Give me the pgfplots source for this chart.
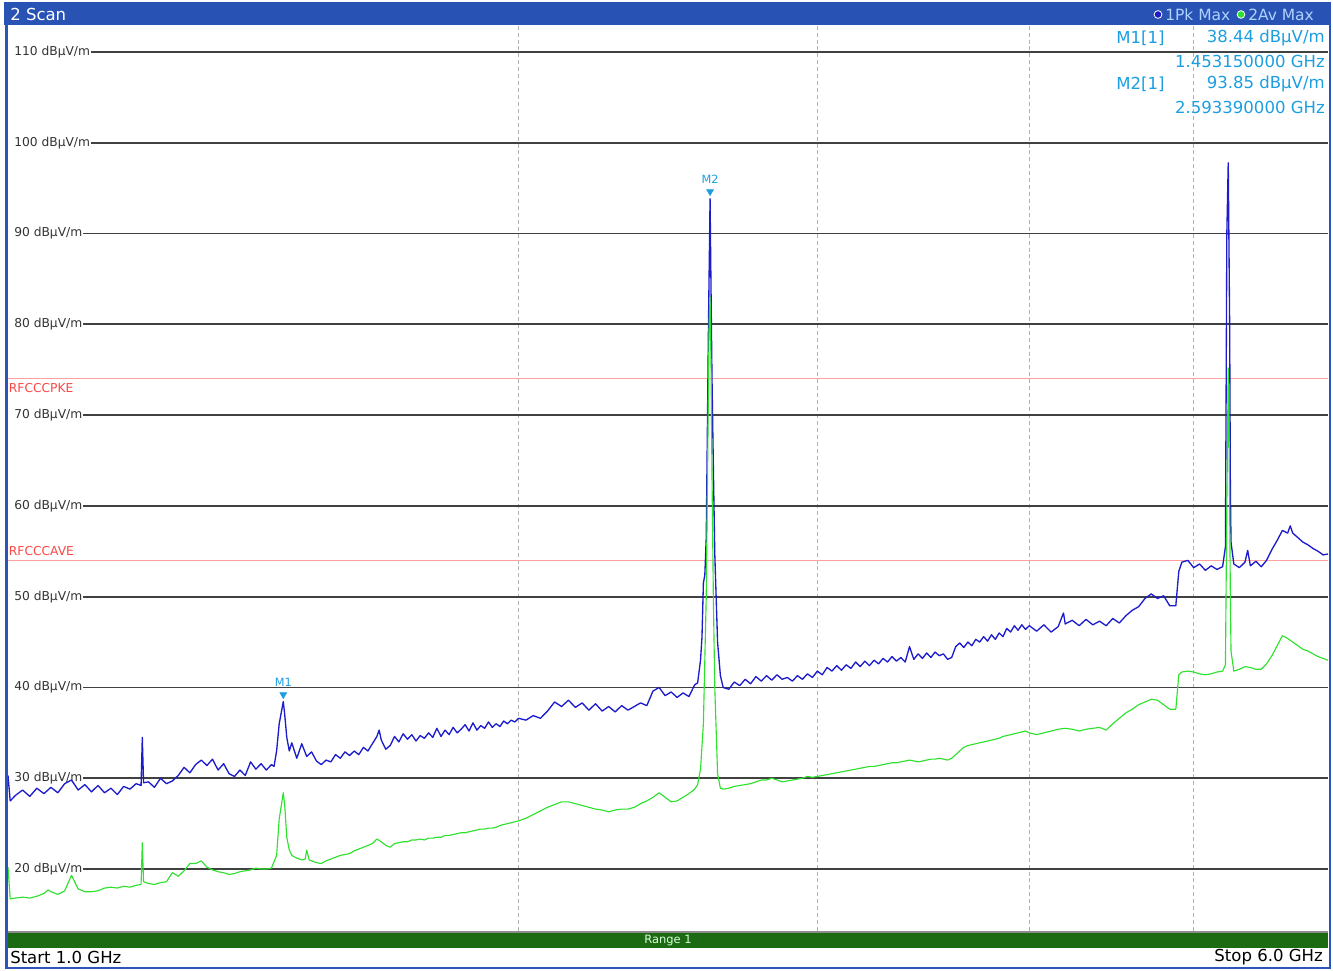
\documentclass[border=0pt]{standalone}
\usepackage{pgfplots}
\pgfplotsset{compat=1.18}
\usepackage{pgfplotstable}
\usepackage{fontspec}
\setmainfont{DejaVu Sans}

\definecolor{hdrblue}{RGB}{40,82,180}
\definecolor{frameblue}{RGB}{45,85,185}
\definecolor{pkblue}{RGB}{28,28,205}
\definecolor{avgreen}{RGB}{45,225,45}
\definecolor{mkblue}{RGB}{28,158,225}
\definecolor{limred}{RGB}{255,160,160}
\definecolor{limtxt}{RGB}{250,70,70}
\definecolor{rangegreen}{RGB}{28,106,18}
\definecolor{gridc}{RGB}{65,65,65}
\definecolor{hdrtxt}{RGB}{175,210,255}
\newcommand\fs[1]{\fontsize{#1}{#1}\selectfont}

% Trace 1: Pk Max (GHz, dBuV/m)
\pgfplotstableread{
f dB
1.000 30.3
1.003 27.5
1.01 28.1
1.02 28.7
1.03 28.0
1.04 28.9
1.05 28.3
1.06 29.0
1.07 28.4
1.08 29.4
1.09 29.8
1.10 28.7
1.11 29.3
1.12 28.5
1.13 29.2
1.14 28.4
1.15 28.9
1.16 28.2
1.17 29.1
1.18 28.8
1.19 29.4
1.198 29.2
1.200 34.5
1.202 29.5
1.21 29.6
1.22 29.0
1.23 30.0
1.24 29.4
1.25 29.7
1.26 30.3
1.27 31.2
1.28 30.6
1.29 31.5
1.30 32.0
1.31 31.4
1.32 32.1
1.33 30.9
1.34 31.6
1.35 30.5
1.36 30.2
1.37 30.9
1.38 30.3
1.39 31.8
1.40 31.0
1.41 31.6
1.42 30.9
1.43 31.5
1.435 31.3
1.44 33.0
1.445 36.0
1.45315 38.44
1.456 37.0
1.46 34.5
1.465 33.0
1.47 33.9
1.48 32.2
1.49 33.8
1.50 32.4
1.51 32.9
1.52 31.9
1.53 31.5
1.54 32.0
1.55 31.8
1.56 32.6
1.57 32.2
1.58 32.9
1.59 32.5
1.60 33.0
1.61 32.6
1.62 33.4
1.63 33.0
1.64 33.8
1.65 34.6
1.655 35.3
1.66 34.2
1.67 33.2
1.68 33.6
1.69 34.6
1.70 34.0
1.71 34.9
1.72 34.3
1.73 34.8
1.74 34.1
1.75 34.7
1.76 34.4
1.77 35.0
1.78 34.5
1.79 35.5
1.80 34.6
1.81 35.3
1.82 34.8
1.83 35.6
1.84 35.0
1.85 35.4
1.86 35.9
1.87 35.2
1.88 36.1
1.89 35.3
1.90 35.8
1.91 35.5
1.92 36.2
1.93 35.6
1.94 36.0
1.95 35.7
1.96 36.3
1.97 36.0
1.98 36.4
1.99 36.2
2.00 36.6
2.02 36.4
2.04 36.9
2.06 36.6
2.08 37.4
2.10 38.4
2.12 37.9
2.14 38.6
2.16 37.8
2.18 38.3
2.20 37.5
2.22 38.2
2.24 37.4
2.26 37.9
2.28 37.3
2.30 38.0
2.32 37.5
2.34 37.9
2.36 38.3
2.38 38.0
2.40 39.6
2.42 40.0
2.44 39.1
2.46 39.5
2.48 38.9
2.50 39.4
2.52 39.0
2.54 40.3
2.55 40.5
2.56 43.0
2.565 45.5
2.57 51.5
2.575 52.4
2.58 56.5
2.588 80.3
2.59339 93.85
2.597 83.3
2.600 74.4
2.605 64.4
2.610 54.7
2.620 45.0
2.630 41.3
2.64 40.0
2.66 39.8
2.68 40.6
2.70 40.2
2.72 40.9
2.74 40.4
2.76 41.2
2.78 40.7
2.80 41.3
2.82 40.8
2.84 41.4
2.86 40.9
2.88 41.1
2.90 40.7
2.92 41.3
2.94 40.9
2.96 41.5
2.98 41.1
3.00 41.8
3.02 41.4
3.04 42.2
3.06 41.8
3.08 42.4
3.10 41.9
3.12 42.5
3.14 42.1
3.16 42.8
3.18 42.3
3.20 42.9
3.22 42.4
3.24 43.0
3.26 42.6
3.28 43.2
3.30 42.8
3.32 43.4
3.34 42.9
3.36 43.3
3.38 42.8
3.40 44.5
3.42 43.1
3.44 43.7
3.46 43.2
3.48 43.8
3.50 43.3
3.52 43.9
3.54 43.5
3.56 43.7
3.58 43.1
3.60 43.3
3.62 44.5
3.64 44.9
3.66 44.4
3.68 45.0
3.70 44.6
3.72 45.3
3.74 45.0
3.76 45.6
3.78 45.1
3.80 45.8
3.82 45.3
3.84 46.0
3.86 45.6
3.88 46.5
3.90 46.1
3.92 46.8
3.94 46.3
3.96 46.9
3.98 46.4
4.00 46.8
4.04 46.2
4.08 46.9
4.12 46.1
4.16 46.7
4.19 48.2
4.20 47.0
4.24 47.4
4.28 46.8
4.32 47.5
4.36 46.9
4.40 47.3
4.44 46.8
4.48 47.6
4.52 47.1
4.56 47.9
4.60 48.5
4.64 48.9
4.68 49.8
4.72 50.3
4.76 49.8
4.80 50.1
4.84 49.0
4.88 49.0
4.90 52.8
4.92 53.8
4.96 54.0
5.00 53.2
5.04 53.6
5.08 52.9
5.12 53.4
5.16 53.0
5.20 53.3
5.22 55.5
5.23 90.0
5.24 97.8
5.25 80.0
5.255 62.0
5.26 56.0
5.28 53.6
5.32 53.2
5.36 53.8
5.38 55.1
5.40 53.4
5.44 53.9
5.48 53.3
5.52 54.0
5.56 55.2
5.60 56.2
5.64 57.3
5.68 57.0
5.70 57.8
5.72 57.0
5.76 56.5
5.80 56.0
5.84 55.7
5.88 55.3
5.92 55.0
5.96 54.6
6.00 54.7
}\pktrace

% Trace 2: Av Max (GHz, dBuV/m)
\pgfplotstableread{
f dB
1.000 20.2
1.003 16.7
1.01 16.8
1.02 16.9
1.03 16.8
1.04 17.0
1.05 17.3
1.056 17.7
1.06 17.5
1.07 17.2
1.08 17.6
1.09 19.3
1.10 17.8
1.11 17.5
1.12 17.5
1.13 17.6
1.14 17.9
1.15 18.0
1.16 17.9
1.17 18.1
1.18 18.0
1.19 18.2
1.198 18.3
1.200 22.9
1.202 18.6
1.21 18.4
1.22 18.3
1.23 18.5
1.24 18.6
1.25 19.6
1.26 19.2
1.27 19.8
1.28 20.6
1.29 20.6
1.30 20.9
1.31 20.2
1.32 19.9
1.33 19.7
1.34 19.6
1.35 19.4
1.36 19.5
1.37 19.7
1.38 19.8
1.39 19.9
1.40 20.1
1.41 20.0
1.42 20.0
1.43 20.1
1.44 21.5
1.445 25.5
1.45315 28.4
1.456 27.0
1.46 23.5
1.465 22.1
1.47 21.5
1.48 21.2
1.49 21.0
1.497 21.1
1.50 22.1
1.505 21.0
1.51 20.9
1.52 20.7
1.53 20.6
1.54 20.9
1.55 21.1
1.56 21.3
1.57 21.5
1.58 21.6
1.59 21.7
1.60 22.0
1.61 22.2
1.62 22.4
1.63 22.6
1.64 22.8
1.65 23.3
1.66 23.0
1.67 22.6
1.68 22.4
1.69 22.8
1.70 22.9
1.71 23.0
1.72 23.0
1.73 23.2
1.74 23.2
1.75 23.3
1.76 23.2
1.77 23.4
1.78 23.4
1.79 23.5
1.80 23.5
1.81 23.7
1.82 23.7
1.83 23.8
1.84 23.9
1.85 24.0
1.86 24.0
1.87 24.1
1.88 24.2
1.89 24.3
1.90 24.4
1.91 24.4
1.92 24.5
1.93 24.5
1.94 24.6
1.95 24.8
1.96 24.9
1.97 25.0
1.98 25.1
1.99 25.2
2.00 25.3
2.02 25.6
2.04 26.0
2.06 26.4
2.08 26.8
2.10 27.1
2.12 27.4
2.14 27.4
2.16 27.2
2.18 27.0
2.20 26.8
2.22 26.6
2.24 26.5
2.26 26.3
2.28 26.5
2.30 26.6
2.32 26.6
2.34 26.8
2.36 27.2
2.38 27.5
2.40 27.9
2.42 28.4
2.44 27.9
2.46 27.4
2.48 27.5
2.50 27.9
2.52 28.3
2.54 28.8
2.55 29.3
2.56 31.0
2.57 36.0
2.58 50.0
2.585 65.0
2.590 80.0
2.59339 83.0
2.597 75.0
2.600 64.0
2.605 50.0
2.610 40.0
2.620 30.5
2.630 28.9
2.64 28.8
2.66 28.9
2.68 29.1
2.70 29.2
2.72 29.3
2.74 29.4
2.76 29.6
2.78 29.8
2.80 29.8
2.82 30.0
2.84 29.8
2.86 29.6
2.88 29.7
2.90 29.8
2.92 29.9
2.94 30.0
2.96 30.2
2.98 30.1
3.00 30.2
3.02 30.3
3.04 30.4
3.06 30.5
3.08 30.6
3.10 30.7
3.12 30.8
3.14 30.9
3.16 31.0
3.18 31.1
3.20 31.2
3.22 31.3
3.24 31.3
3.26 31.4
3.28 31.5
3.30 31.6
3.32 31.7
3.34 31.7
3.36 31.8
3.38 31.9
3.40 32.0
3.42 31.9
3.44 31.8
3.46 31.9
3.48 32.0
3.50 32.1
3.52 32.1
3.54 32.2
3.56 32.1
3.58 32.0
3.60 32.2
3.62 32.6
3.64 33.0
3.66 33.4
3.68 33.6
3.70 33.7
3.72 33.8
3.74 33.9
3.76 34.0
3.78 34.1
3.80 34.2
3.82 34.3
3.84 34.4
3.86 34.6
3.88 34.7
3.90 34.8
3.92 34.9
3.94 35.0
3.96 35.1
3.98 35.2
4.00 35.0
4.04 34.8
4.08 35.0
4.12 35.2
4.16 35.4
4.20 35.5
4.24 35.4
4.28 35.2
4.32 35.4
4.36 35.5
4.40 35.6
4.44 35.3
4.48 36.0
4.52 36.6
4.56 37.2
4.60 37.6
4.64 38.1
4.68 38.4
4.72 38.7
4.76 38.6
4.80 38.1
4.84 37.6
4.88 37.6
4.90 41.4
4.92 41.7
4.96 41.8
5.00 41.7
5.04 41.5
5.08 41.4
5.12 41.5
5.16 41.7
5.20 41.8
5.22 42.5
5.23 60.0
5.24 75.2
5.25 60.0
5.255 50.0
5.26 44.0
5.28 41.8
5.32 42.0
5.36 42.3
5.40 42.2
5.44 42.0
5.48 42.0
5.52 42.6
5.56 43.5
5.60 44.6
5.64 45.7
5.68 45.4
5.72 45.0
5.76 44.6
5.80 44.2
5.84 44.0
5.88 43.7
5.92 43.4
5.96 43.2
6.00 43.0
}\avtrace

\begin{document}
\begin{tikzpicture}
\begin{axis}[
  at={(6pt,-698.25pt)}, anchor=south west,
  scale only axis, width=990pt, height=679.5pt,
  xmode=log, xmin=1, xmax=6,
  ymin=13.17, ymax=112.974,
  axis line style={draw=none},
  xtick={2,3,4,5}, xticklabels={}, minor xtick={},
  ytick=\empty,
  major tick length=0pt,
  xmajorgrids,
  major grid style={draw=black!30, line width=1pt, dash pattern=on 3pt off 2.2pt},
]
% horizontal grid with level labels
\pgfplotsinvokeforeach{20,30,40,50,60,70,80,90,100,110}{
  \node[anchor=west, xshift=4.5pt, inner sep=0pt, text=black!80, font=\fs{9.2pt}] (gl#1) at (axis cs:1,#1) {#1 dBµV/m};
  \draw[gridc, line width=1.3pt] ([xshift=0.4pt]gl#1.east) -- (axis cs:6,#1);
}
% limit lines
\addplot[limred, line width=0.8pt, forget plot] coordinates {(1,74) (6,74)};
\addplot[limred, line width=0.8pt, forget plot] coordinates {(1,54) (6,54)};
\node[anchor=north west, inner sep=0pt, xshift=0.5pt, yshift=-3pt, text=limtxt, font=\fs{9.2pt}] at (axis cs:1,74) {RFCCCPKE};
\node[anchor=south west, inner sep=0pt, xshift=0.5pt, yshift=3pt, text=limtxt, font=\fs{9.2pt}] at (axis cs:1,54) {RFCCCAVE};
% traces
\addplot[pkblue, line width=1pt, line join=round] table[x=f, y=dB] {\pktrace};
\addplot[avgreen, line width=0.85pt, line join=round] table[x=f, y=dB] {\avtrace};
% markers
\addplot[only marks, mark=triangle*, mark size=3pt, mkblue,
  mark options={yshift=5.25pt, rotate=180, draw=none, fill=mkblue}]
  coordinates {(1.45315,38.44) (2.59339,93.85)};
\node[anchor=south, inner sep=0pt, yshift=11pt, text=mkblue, font=\fs{8.5pt}] at (axis cs:1.45315,38.44) {M1};
\node[anchor=south, inner sep=0pt, yshift=11pt, text=mkblue, font=\fs{8.5pt}] at (axis cs:2.59339,93.85) {M2};
\end{axis}

\begin{scope}[x=0.75pt, y=-0.75pt]
  % header bar
  \fill[hdrblue] (4,2) rectangle (1331,25);
  \node[anchor=west, inner sep=0pt, text=white, font=\fs{12.4pt}] at (10,14) {2 Scan};
  \fill[white] (1158,14.5) circle (4.3);
  \fill[pkblue] (1158,14.5) circle (3.3);
  \node[anchor=west, inner sep=0pt, text=hdrtxt, font=\fs{11.6pt}] at (1165,14.5) {1Pk Max};
  \fill[white] (1241,14.5) circle (4.3);
  \fill[avgreen] (1241,14.5) circle (3.3);
  \node[anchor=west, inner sep=0pt, text=hdrtxt, font=\fs{11.6pt}] at (1248,14.5) {2Av Max};
  % marker table
  \node[anchor=west, inner sep=0pt, text=mkblue, font=\fs{12.4pt}] at (1116,38) {M1[1]};
  \node[anchor=east, inner sep=0pt, text=mkblue, font=\fs{12.4pt}] at (1325,38) {38.44 dBµV/m};
  \node[anchor=east, inner sep=0pt, text=mkblue, font=\fs{12.4pt}] at (1325,61) {1.453150000 GHz};
  \node[anchor=west, inner sep=0pt, text=mkblue, font=\fs{12.4pt}] at (1116,84) {M2[1]};
  \node[anchor=east, inner sep=0pt, text=mkblue, font=\fs{12.4pt}] at (1325,84) {93.85 dBµV/m};
  \node[anchor=east, inner sep=0pt, text=mkblue, font=\fs{12.4pt}] at (1325,107) {2.593390000 GHz};
  % bottom bars
  \draw[black!45, line width=1.2pt] (8,931.8) -- (1328,931.8);
  \fill[rangegreen] (8,933) rectangle (1328,947.5);
  \node[inner sep=0pt, text=green!15!white, font=\fs{8.6pt}] at (668,940.5) {Range 1};
  \node[anchor=west, inner sep=0pt, text=black, font=\fs{12.4pt}] at (10,957.5) {Start 1.0 GHz};
  \node[anchor=east, inner sep=0pt, text=black, font=\fs{12.4pt}] at (1323,957.5) {Stop 6.0 GHz};
  % frame
  \draw[frameblue, line width=2pt] (6.3,24) -- (6.3,968);
  \draw[frameblue, line width=2pt] (1330,24) -- (1330,968);
  \draw[frameblue, line width=1.6pt] (5,967.8) -- (1331,967.8);
\end{scope}

\pgfresetboundingbox
\useasboundingbox (0pt,0pt) rectangle (999.75pt,-727.5pt);
\end{tikzpicture}
\end{document}
